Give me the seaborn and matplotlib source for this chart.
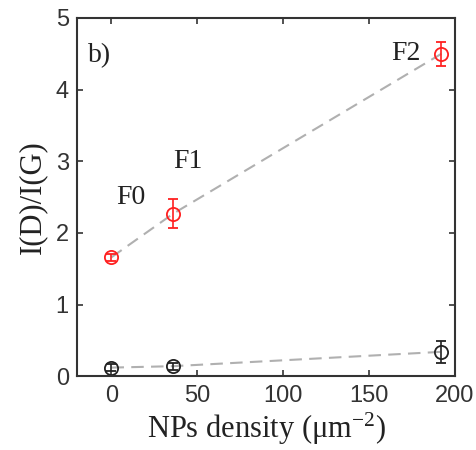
import matplotlib
matplotlib.use("Agg")
import matplotlib.pyplot as plt
import seaborn as sns
import pandas as pd

# data
density = [0, 36, 192]
ratio_red = [1.66, 2.27, 4.50]
err_red = [0.05, 0.20, 0.17]
ratio_black = [0.12, 0.14, 0.34]
err_black = [0.05, 0.05, 0.15]
labels = ["F0", "F1", "F2"]
label_pos = [(3, 2.49), (36, 2.99), (180, 4.51)]
label_ha = ["left", "left", "right"]
xticks = [0, 50, 100, 150, 200]
yticks = [0, 1, 2, 3, 4, 5]

sns.set_style("ticks")
plt.rcParams["font.family"] = ["Liberation Sans", "DejaVu Sans"]
plt.rcParams["mathtext.fontset"] = "custom"
plt.rcParams["mathtext.rm"] = "Liberation Serif"
plt.rcParams["mathtext.it"] = "Liberation Serif:italic"

fig = plt.figure(figsize=(4.76, 4.5), dpi=100)
ax = fig.add_axes([0.162, 0.164, 0.794, 0.796])

df = pd.DataFrame({"x": density * 2,
                   "y": ratio_red + ratio_black,
                   "s": ["red"] * 3 + ["black"] * 3})
sns.lineplot(data=df, x="x", y="y", units="s", estimator=None, ax=ax,
             color="#b0b0b0", linewidth=1.5, legend=False)
for l in ax.lines:
    l.set_dashes([6, 3.5])

ax.errorbar(density, ratio_red, yerr=err_red, fmt="o", mfc="none", mec="#ff2020",
            ecolor="#ff2020", ms=9.5, mew=1.3, capsize=3.5, elinewidth=1.2, capthick=1.2)
ax.errorbar(density, ratio_black, yerr=err_black, fmt="o", mfc="none", mec="#222222",
            ecolor="#222222", ms=9.5, mew=1.3, capsize=3.5, elinewidth=1.2, capthick=1.2)

serif = ["Liberation Serif", "DejaVu Serif"]
for t, (px, py), ha in zip(labels, label_pos, label_ha):
    ax.text(px, py, t, family=serif, fontsize=20, color="#222222", ha=ha, va="center")
ax.text(-13.5, 4.48, "b)", family=serif, fontsize=20, color="#222222", ha="left", va="center")

ax.set_xlim(-20, 200)
ax.set_ylim(0, 5)
ax.set_xticks(xticks)
ax.set_yticks(yticks)
ax.tick_params(direction="in", top=True, right=True, length=4, width=1.2,
               labelsize=17, colors="#333333", pad=6)
for s in ax.spines.values():
    s.set_visible(True)
    s.set_linewidth(1.5)
    s.set_color("#333333")
ax.set_xlabel("NPs density ($\\mathrm{\\mu}$m$^{-2}$)", family=serif, fontsize=22,
              color="#222222", labelpad=3)
ax.set_ylabel("I(D)/I(G)", family=serif, fontsize=22, color="#222222", labelpad=6)

fig.savefig("out.png", dpi=100)
